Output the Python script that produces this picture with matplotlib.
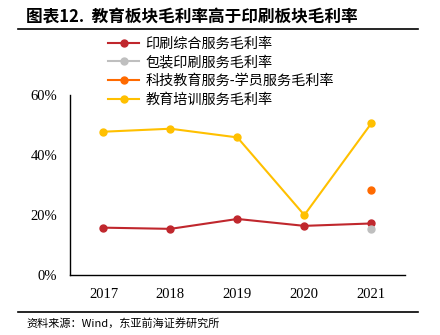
import matplotlib
matplotlib.use('Agg')
import matplotlib.pyplot as plt
from matplotlib.lines import Line2D

plt.rcParams['font.family'] = ['Noto Sans CJK SC', 'DejaVu Sans']

years = ['2017', '2018', '2019', '2020', '2021']
printing = [15.8, 15.4, 18.7, 16.4, 17.2]
packaging = [None, None, None, None, 15.3]
tech_edu = [None, None, None, None, 28.2]
training = [47.8, 48.8, 45.9, 20.0, 50.6]

series = [
    ('印刷综合服务毛利率', printing, '#C0272D'),
    ('包装印刷服务毛利率', packaging, '#BFBFBF'),
    ('科技教育服务-学员服务毛利率', tech_edu, '#FF6A00'),
    ('教育培训服务毛利率', training, '#FFC000'),
]
yticks = [0, 20, 40, 60]

fig = plt.figure(figsize=(4.4, 3.35), dpi=100)
ax = fig.add_axes([0.159, 0.179, 0.761, 0.537])

x = list(range(len(years)))
handles = []
for label, vals, color in series:
    xs = [i for i, v in zip(x, vals) if v is not None]
    ys = [v for v in vals if v is not None]
    ax.plot(xs, ys, color=color, lw=1.5, marker='o', ms=5, zorder=3)
    handles.append(Line2D([0], [0], color=color, lw=1.5, marker='o', ms=5))

ax.set_xlim(-0.5, len(years) - 0.5)
ax.set_ylim(0, 60)
ax.set_xticks(x)
ax.set_xticklabels(years, family='Liberation Serif', fontsize=10.5)
ax.set_yticks(yticks)
ax.set_yticklabels([f'{v}%' for v in yticks], family='Liberation Serif', fontsize=10.5)
ax.tick_params(length=0, pad=9)
for s in ['top', 'right']:
    ax.spines[s].set_visible(False)
for s in ['left', 'bottom']:
    ax.spines[s].set_linewidth(1.0)
    ax.spines[s].set_color('black')

fig.legend(handles, [s[0] for s in series], loc='upper left',
           bbox_to_anchor=(0.23, 0.912), frameon=False, fontsize=10.2,
           handlelength=2.2, handletextpad=0.4, labelspacing=0.33, borderpad=0)

fig.text(0.06, 0.948, '图表12.  教育板块毛利率高于印刷板块毛利率', fontsize=12,
         fontweight='bold', va='center')
fig.add_artist(Line2D([0.04, 0.95], [0.913, 0.913], color='black', lw=1.2))
fig.add_artist(Line2D([0.04, 0.95], [0.069, 0.069], color='black', lw=1.2))
fig.text(0.06, 0.036, '资料来源：Wind，东亚前海证券研究所', fontsize=8, va='center')

fig.savefig('out.png', dpi=100)
